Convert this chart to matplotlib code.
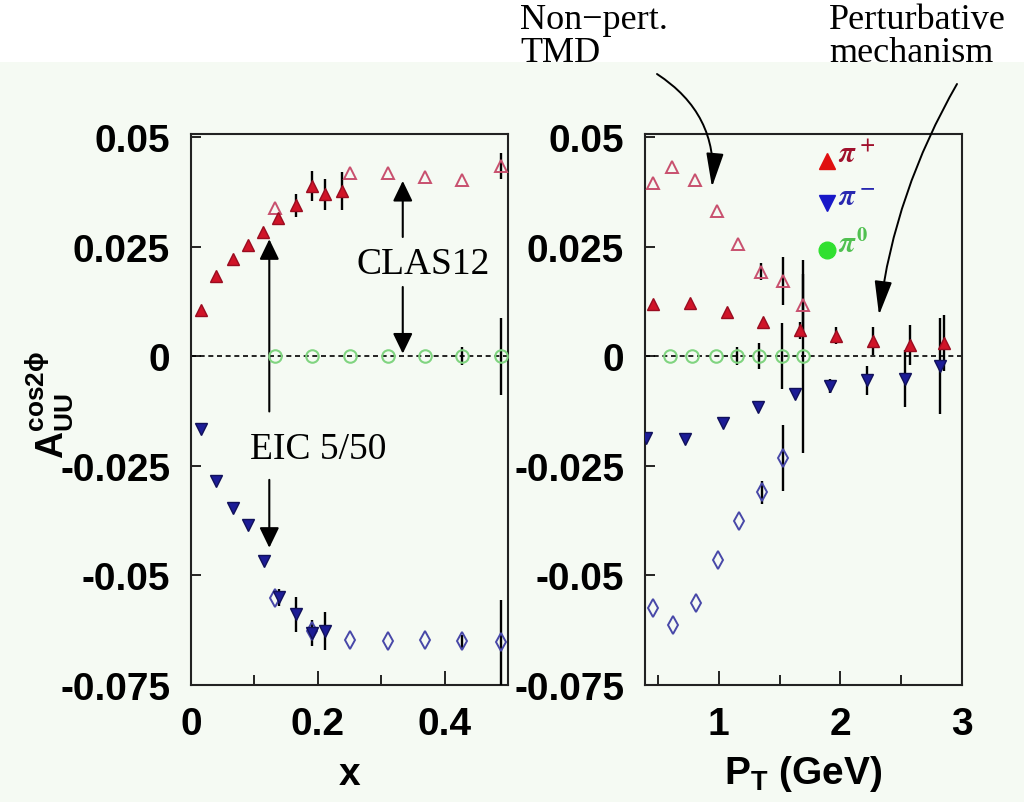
import numpy as np
import matplotlib
matplotlib.use('Agg')
import matplotlib.pyplot as plt
from matplotlib.patches import Rectangle, FancyArrowPatch

plt.rcParams['font.family'] = ['Liberation Sans', 'DejaVu Sans']
plt.rcParams['font.weight'] = 'bold'
plt.rcParams['axes.labelweight'] = 'bold'
plt.rcParams['mathtext.fontset'] = 'custom'
plt.rcParams['mathtext.rm'] = 'Liberation Sans:bold'
plt.rcParams['mathtext.it'] = 'Liberation Sans:bold'
plt.rcParams['mathtext.bf'] = 'Liberation Sans:bold'

# ---- left panel: A_UU^cos2phi vs x ----
x_clas_pip = [0.0155, 0.040, 0.066, 0.0897, 0.113, 0.1376, 0.165, 0.191, 0.212, 0.238]
y_clas_pip = [0.0106, 0.0184, 0.0222, 0.0253, 0.0284, 0.0315, 0.0344, 0.0388, 0.0369, 0.0377]
e_clas_pip = [0, 0, 0, 0, 0, 0, 0.0026, 0.0034, 0.0035, 0.0044]

x_clas_pim = [0.0155, 0.040, 0.066, 0.0897, 0.115, 0.139, 0.165, 0.191, 0.212]
y_clas_pim = [-0.0165, -0.0285, -0.0347, -0.0385, -0.0468, -0.055, -0.0589, -0.0631, -0.0627]
e_clas_pim = [0, 0, 0, 0, 0, 0.0019, 0.0039, 0.003, 0.0043]

x_eic_pip = [0.133, 0.251, 0.31, 0.369, 0.428, 0.489]
y_eic_pip = [0.0339, 0.0419, 0.0419, 0.041, 0.0401, 0.0434]
e_eic_pip = [0, 0, 0, 0, 0, 0.003]

x_eic_pim = [0.133, 0.191, 0.251, 0.31, 0.369, 0.428, 0.489]
y_eic_pim = [-0.0551, -0.0627, -0.0648, -0.065, -0.0648, -0.065, -0.0653]
e_eic_pim = [0, 0, 0, 0, 0, 0.0015, 0.0097]

x_eic_pi0 = [0.133, 0.191, 0.251, 0.31, 0.369, 0.428, 0.489]
y_eic_pi0 = [0, 0, 0, 0, 0, 0, 0]
e_eic_pi0 = [0, 0, 0, 0, 0, 0.002, 0.0088]

# ---- right panel: vs P_T ----
pt_eic_pip = [0.457, 0.618, 0.805, 0.989, 1.156, 1.346, 1.532, 1.696]
a_eic_pip = [0.0396, 0.0431, 0.0403, 0.0331, 0.0256, 0.0193, 0.0172, 0.0117]
ae_eic_pip = [0, 0, 0, 0, 0, 0.0019, 0.0055, 0.007]

pt_clas_pip = [0.462, 0.764, 1.066, 1.367, 1.669, 1.965, 2.268, 2.569, 2.854]
a_clas_pip = [0.0119, 0.0122, 0.0100, 0.0079, 0.0059, 0.0047, 0.0034, 0.0026, 0.0031]
ae_clas_pip = [0, 0, 0, 0, 0.002, 0.002, 0.0032, 0.0046, 0.0064]

pt_eic_pi0 = [0.599, 0.783, 0.975, 1.148, 1.334, 1.519, 1.696]
a_eic_pi0 = [0, 0, 0, 0, 0, 0, 0]
ae_eic_pi0 = [0, 0, 0, 0.002, 0.003, 0.0075, 0.022]

pt_clas_pim = [0.405, 0.723, 1.033, 1.321, 1.628, 1.916, 2.218, 2.528, 2.816]
a_clas_pim = [-0.0186, -0.0188, -0.0153, -0.0115, -0.0085, -0.0068, -0.0055, -0.0051, -0.0022]
ae_clas_pim = [0, 0, 0, 0, 0, 0.0015, 0.0033, 0.0065, 0.011]

pt_eic_pim = [0.457, 0.626, 0.813, 0.997, 1.167, 1.354, 1.532]
a_eic_pim = [-0.0574, -0.0613, -0.0562, -0.0464, -0.0375, -0.031, -0.0233]
ae_eic_pim = [0, 0, 0, 0, 0, 0.0026, 0.0075]

RED = '#d01428'
RED_OPEN = '#c8506e'
BLUE = '#1c1c96'
BLUE_OPEN = '#4848a8'
GREEN_OPEN = '#80d480'

fig = plt.figure(figsize=(10.24, 8.03), dpi=100, facecolor='white')
fig.patches.append(Rectangle((0, 0), 1, 1 - 63 / 803, transform=fig.transFigure,
                             facecolor='#f5faf3', edgecolor='none', zorder=-10))

axL = fig.add_axes([191 / 1024, 1 - 686 / 803, 317 / 1024, 551 / 803])
axR = fig.add_axes([645 / 1024, 1 - 686 / 803, 317 / 1024, 551 / 803])


def draw(ax, x, y, e, marker, ms, fc, ec, mew=1.0):
    ax.errorbar(x, y, yerr=e, fmt='none', ecolor='black', elinewidth=1.7, capsize=0, zorder=3)
    ax.plot(x, y, ls='none', marker=marker, ms=ms, mfc=fc, mec=ec, mew=mew, zorder=4)


for ax in (axL, axR):
    ax.set_facecolor('none')
    ax.axhline(0, color='black', ls=(0, (3, 2.2)), lw=1.2, zorder=2)
    ax.set_ylim(-0.0745, 0.0507)
    ax.set_yticks([-0.075, -0.05, -0.025, 0, 0.025, 0.05])
    ax.set_yticklabels(['-0.075', '-0.05', '-0.025', '0', '0.025', '0.05'])
    ax.tick_params(axis='both', which='both', direction='in', labelsize=28, pad=15, width=1.2)
    ax.tick_params(axis='y', length=7)
    ax.tick_params(axis='x', which='major', length=10)
    ax.tick_params(axis='x', which='minor', length=7)
    for s in ax.spines.values():
        s.set_linewidth(1.5)
        s.set_color('#222222')

# left panel
draw(axL, x_eic_pi0, y_eic_pi0, e_eic_pi0, 'o', 9, 'none', GREEN_OPEN, 1.5)
draw(axL, x_eic_pip, y_eic_pip, e_eic_pip, '^', 9, 'none', RED_OPEN, 1.4)
draw(axL, x_eic_pim, y_eic_pim, e_eic_pim, 'd', 9, 'none', BLUE_OPEN, 1.4)
draw(axL, x_clas_pip, y_clas_pip, e_clas_pip, '^', 9, RED, '#9a0c20')
draw(axL, x_clas_pim, y_clas_pim, e_clas_pim, 'v', 9, BLUE, '#10105a')
axL.set_xlim(0.003, 0.5)
axL.set_xticks([0, 0.2, 0.4])
axL.set_xticklabels(['0', '0.2', '0.4'])
axL.set_xticks([0.1, 0.3], minor=True)
axL.set_xlabel('x', fontsize=28, fontweight='bold', labelpad=10)

# right panel
draw(axR, pt_eic_pi0, a_eic_pi0, ae_eic_pi0, 'o', 9, 'none', GREEN_OPEN, 1.5)
draw(axR, pt_eic_pip, a_eic_pip, ae_eic_pip, '^', 9, 'none', RED_OPEN, 1.4)
draw(axR, pt_eic_pim, a_eic_pim, ae_eic_pim, 'd', 9, 'none', BLUE_OPEN, 1.4)
draw(axR, pt_clas_pip, a_clas_pip, ae_clas_pip, '^', 9, RED, '#9a0c20')
draw(axR, pt_clas_pim, a_clas_pim, ae_clas_pim, 'v', 9, BLUE, '#10105a')
axR.set_xlim(0.393, 3.0)
axR.set_xticks([1, 2, 3])
axR.set_xticklabels(['1', '2', '3'])
axR.set_xticks([0.5, 1.5, 2.5], minor=True)
axR.set_xlabel(r'$\mathbf{P_T}$ (GeV)', fontsize=28, fontweight='bold', labelpad=8)

# pion legend in right panel
leg_items = [('^', '#e01010', r'$\pi^+$', '#a0102c'),
             ('v', '#1818c8', r'$\pi^-$', '#2828b0'),
             ('o', '#30e030', r'$\pi^0$', '#50c050')]
for i, (m, c, lab, tc) in enumerate(leg_items):
    yy = 0.951 - i * 0.077 - (0.008 if i == 2 else 0)
    axR.plot([0.574], [yy], marker=m, ms=12, color=c, mec=c, ls='none',
             transform=axR.transAxes, clip_on=False, zorder=5)
    axR.text(0.61, yy + 0.012, lab, color=tc, fontsize=21, math_fontfamily='stix',
             transform=axR.transAxes, ha='left', va='center', fontweight='normal')

# y label
fig.text(50 / 1024, 1 - 405 / 803, r'$\mathbf{A}_{\mathbf{UU}}^{\mathbf{cos2\phi}}$',
         rotation=90, fontsize=27, ha='center', va='center')

# CLAS12 / EIC annotations
serif = dict(family=['Liberation Serif', 'DejaVu Serif'], fontweight='normal')
straight = dict(arrowstyle='-|>,head_length=0.62,head_width=0.3', color='black',
                lw=1.5, mutation_scale=20, shrinkA=0, shrinkB=0)
axL.text(0.366, 0.021, 'CLAS12', fontsize=27, ha='center', va='center', **serif)
axL.annotate('', xy=(0.334, 0.040), xytext=(0.334, 0.0272), arrowprops=straight)
axL.annotate('', xy=(0.334, 0.0006), xytext=(0.334, 0.0158), arrowprops=straight)
axL.text(0.201, -0.021, 'EIC 5/50', fontsize=27, ha='center', va='center', **serif)
axL.annotate('', xy=(0.1235, 0.0267), xytext=(0.1235, -0.0126), arrowprops=straight)
axL.annotate('', xy=(0.1235, -0.0437), xytext=(0.1235, -0.0282), arrowprops=straight)

# top annotations with curved arrows
fig.text(520 / 1024, 1 - 4 / 803, 'Non\u2212pert.\nTMD', fontsize=26, ha='left', va='top',
         linespacing=1.0, **serif)
fig.text(829 / 1024, 1 - 4 / 803, 'Perturbative\nmechanism', fontsize=26, ha='left', va='top',
         linespacing=1.0, **serif)
curved = dict(arrowstyle='-|>,head_length=1.05,head_width=0.27', color='black',
              lw=1.4, mutation_scale=20, shrinkA=0, shrinkB=0)
fig.add_artist(FancyArrowPatch(
    (657 / 1024, 1 - 75 / 803), (712 / 1024, 1 - 188 / 803), transform=fig.transFigure,
    connectionstyle='arc3,rad=-0.3', **curved))
fig.add_artist(FancyArrowPatch(
    (957 / 1024, 1 - 85 / 803), (879 / 1024, 1 - 316 / 803), transform=fig.transFigure,
    connectionstyle='arc3,rad=0.1', **curved))

fig.savefig('out.png', dpi=100, facecolor=fig.get_facecolor())
